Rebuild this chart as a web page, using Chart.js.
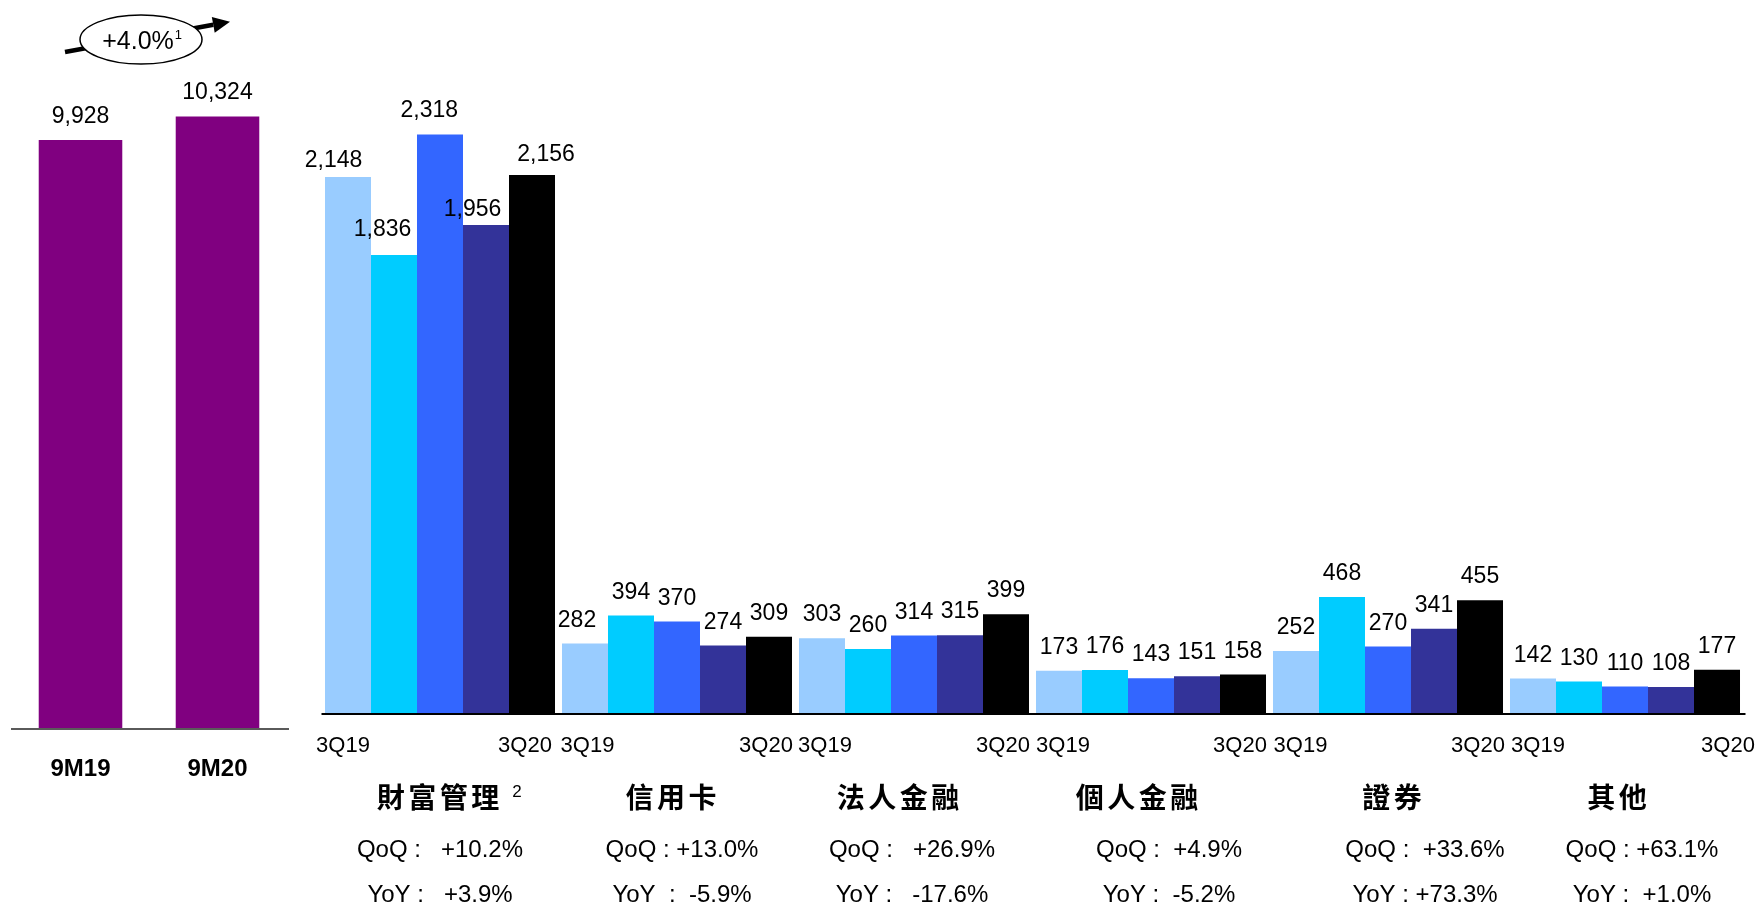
<!DOCTYPE html>
<html>
<head>
<meta charset="utf-8">
<script src="https://cdn.jsdelivr.net/npm/chart.js@4/dist/chart.umd.min.js"></script>
<style>
  html, body { margin: 0; padding: 0; background: #ffffff; }
  #wrap { position: relative; width: 1758px; height: 909px; overflow: hidden; }
  #wrap canvas { position: absolute; left: 0; top: 0; }
</style>
</head>
<body>
<div id="wrap">
  <canvas id="totalChart" width="1758" height="909"></canvas>
  <canvas id="segmentChart" width="1758" height="909"></canvas>
</div>
<script>
// ---- Nine-month totals ----
const periods = ['9M19', '9M20'];
const periodTotals = [9928, 10324];
const totalGrowth = '+4.0%';
const totalGrowthNote = '1';

// ---- Quarterly revenue by business line ----
const segments = ['財富管理', '信用卡', '法人金融', '個人金融', '證券', '其他'];
const segmentNotes = ['2', '', '', '', '', ''];
const quarters = ['3Q19', '4Q19', '1Q20', '2Q20', '3Q20'];
const rev3Q19 = [2148, 282, 303, 173, 252, 142];
const rev4Q19 = [1836, 394, 260, 176, 468, 130];
const rev1Q20 = [2318, 370, 314, 143, 270, 110];
const rev2Q20 = [1956, 274, 315, 151, 341, 108];
const rev3Q20 = [2156, 309, 399, 158, 455, 177];
const qoqText = ['QoQ :   +10.2%', 'QoQ : +13.0%', 'QoQ :   +26.9%', 'QoQ :  +4.9%', 'QoQ :  +33.6%', 'QoQ : +63.1%'];
const yoyText = ['YoY :   +3.9%', 'YoY  :  -5.9%', 'YoY :   -17.6%', 'YoY :  -5.2%', 'YoY : +73.3%', 'YoY :  +1.0%'];

const quarterColors = ['#99CCFF', '#00CCFF', '#3366FF', '#333399', '#000000'];
const SANS = '"Liberation Sans", Arial, Helvetica, sans-serif';
const CJK = '"Noto Sans CJK TC", "Noto Sans CJK SC", sans-serif';
const fmt = v => v.toLocaleString('en-US');

// Horizontal nudges for the text block under each business line
const nameShift = [-2, -6, -16, -14, 4, -8];
const rateShift = [0, 5, -2, 18, 37, 17];
// Nudges for the first / last quarter captions of each group
const firstTickShift = [-5, 2.5, 3, 4, 4.5, 5];
const lastTickShift = [-7, -3, -3, -3, -2, 11];
// Label nudges [dx, dy] keyed by "dataset:index" where labels sit off-centre
const labelNudge = {
  '0:0': [-14.5, 6.7], '1:0': [-11.5, -1.7], '2:0': [-10.7, -1],
  '3:0': [-13.5, 7.7], '4:0': [14, 2.7], '0:1': [-8, 0]
};

function drawSpaced(ctx, text, cx, cy, gap) {
  const chars = Array.from(text);
  const widths = chars.map(c => ctx.measureText(c).width);
  const total = widths.reduce((a, b) => a + b, 0) + gap * (chars.length - 1);
  let x = cx - total / 2;
  ctx.textAlign = 'left';
  chars.forEach((c, i) => { ctx.fillText(c, x, cy); x += widths[i] + gap; });
  ctx.textAlign = 'center';
  return x - gap; // right edge
}

const commonOptions = {
  responsive: false,
  animation: false,
  devicePixelRatio: 1,
  events: [],
  plugins: { legend: { display: false }, tooltip: { enabled: false } }
};

// ---- Left: nine-month totals ----
const totalDecor = {
  id: 'totalDecor',
  afterDatasetsDraw(chart) {
    const ctx = chart.ctx;
    const area = chart.chartArea;
    const y0 = chart.scales.y.getPixelForValue(0);
    const bars = chart.getDatasetMeta(0).data;
    ctx.save();
    // axis line
    ctx.strokeStyle = '#5a5a5a';
    ctx.lineWidth = 2;
    ctx.beginPath();
    ctx.moveTo(area.left - 1, y0);
    ctx.lineTo(area.right + 3, y0);
    ctx.stroke();

    ctx.fillStyle = '#000';
    ctx.textAlign = 'center';
    ctx.textBaseline = 'alphabetic';
    ctx.font = '23px ' + SANS;
    bars.forEach((b, i) => ctx.fillText(fmt(periodTotals[i]), b.x, b.y - 17));

    ctx.font = 'bold 24px ' + SANS;
    bars.forEach((b, i) => ctx.fillText(periods[i], b.x, y0 + 47));

    // growth arrow with the ellipse badge
    const sx = 65, sy = 52, tx = 230, ty = 21.7;
    const dx = tx - sx, dy = ty - sy, len = Math.hypot(dx, dy);
    const ux = dx / len, uy = dy / len;
    const headLen = 17, headHalf = 8;
    ctx.strokeStyle = '#000';
    ctx.lineWidth = 4.5;
    ctx.beginPath();
    ctx.moveTo(sx, sy);
    ctx.lineTo(tx - ux * headLen, ty - uy * headLen);
    ctx.stroke();
    ctx.fillStyle = '#000';
    ctx.beginPath();
    ctx.moveTo(tx, ty);
    ctx.lineTo(tx - ux * headLen - uy * headHalf, ty - uy * headLen + ux * headHalf);
    ctx.lineTo(tx - ux * headLen + uy * headHalf, ty - uy * headLen - ux * headHalf);
    ctx.closePath();
    ctx.fill();

    const ex = (bars[0].x + bars[1].x) / 2 - 8, ey = 39.5;
    ctx.beginPath();
    ctx.ellipse(ex, ey, 61, 24.5, 0, 0, Math.PI * 2);
    ctx.fillStyle = '#fff';
    ctx.fill();
    ctx.lineWidth = 1.5;
    ctx.strokeStyle = '#000';
    ctx.stroke();

    ctx.fillStyle = '#000';
    ctx.font = '25px ' + SANS;
    ctx.textAlign = 'center';
    const w = ctx.measureText(totalGrowth).width;
    ctx.fillText(totalGrowth, ex - 3, ey + 9);
    ctx.font = '13px ' + SANS;
    ctx.textAlign = 'left';
    ctx.fillText(totalGrowthNote, ex - 3 + w / 2 + 1, ey - 1);
    ctx.restore();
  }
};

new Chart(document.getElementById('totalChart'), {
  type: 'bar',
  data: {
    labels: periods,
    datasets: [{ data: periodTotals, backgroundColor: '#800080', borderWidth: 0,
                 barPercentage: 0.61, categoryPercentage: 1 }]
  },
  options: Object.assign({}, commonOptions, {
    layout: { padding: { left: 12, right: 1472, top: 17, bottom: 180 } },
    scales: {
      x: { display: false },
      y: { display: false, min: 0, max: 12000 }
    }
  }),
  plugins: [totalDecor]
});

// ---- Right: quarterly revenue by business line ----
const quarterSeries = [rev3Q19, rev4Q19, rev1Q20, rev2Q20, rev3Q20];

const segmentDecor = {
  id: 'segmentDecor',
  afterDatasetsDraw(chart) {
    const ctx = chart.ctx;
    const area = chart.chartArea;
    const xs = chart.scales.x;
    const y0 = chart.scales.y.getPixelForValue(0);
    ctx.save();
    ctx.strokeStyle = '#000';
    ctx.lineWidth = 2;
    ctx.beginPath();
    ctx.moveTo(area.left, y0);
    ctx.lineTo(area.right + 2, y0);
    ctx.stroke();

    ctx.fillStyle = '#000';
    ctx.textAlign = 'center';
    ctx.textBaseline = 'alphabetic';
    ctx.font = '23px ' + SANS;
    chart.data.datasets.forEach((ds, di) => {
      chart.getDatasetMeta(di).data.forEach((b, i) => {
        const n = labelNudge[di + ':' + i] || [0, 0];
        ctx.fillText(fmt(ds.data[i]), b.x + n[0], b.y - 17 + n[1]);
      });
    });

    // first and last quarter under each group
    ctx.font = '22px ' + SANS;
    const firstBars = chart.getDatasetMeta(0).data;
    const lastBars = chart.getDatasetMeta(quarters.length - 1).data;
    firstBars.forEach((b, i) => ctx.fillText(quarters[0], b.x + firstTickShift[i], y0 + 38));
    lastBars.forEach((b, i) => ctx.fillText(quarters[quarters.length - 1], b.x + lastTickShift[i], y0 + 38));

    segments.forEach((name, i) => {
      const cx = xs.getPixelForValue(i);
      ctx.font = 'bold 28px ' + CJK;
      ctx.textBaseline = 'middle';
      const right = drawSpaced(ctx, name, cx + nameShift[i], y0 + 83.5, 3.5);
      if (segmentNotes[i]) {
        ctx.font = '17px ' + SANS;
        ctx.textAlign = 'left';
        ctx.textBaseline = 'alphabetic';
        ctx.fillText(segmentNotes[i], right + 13, y0 + 83);
        ctx.textAlign = 'center';
      }
      ctx.textBaseline = 'alphabetic';
      ctx.font = '24px ' + SANS;
      ctx.fillText(qoqText[i], cx + rateShift[i], y0 + 143);
      ctx.fillText(yoyText[i], cx + rateShift[i], y0 + 188);
    });
    ctx.restore();
  }
};

new Chart(document.getElementById('segmentChart'), {
  type: 'bar',
  data: {
    labels: segments,
    datasets: quarters.map((q, i) => ({
      label: q,
      data: quarterSeries[i],
      backgroundColor: quarterColors[i],
      borderWidth: 0,
      barPercentage: 1,
      categoryPercentage: 0.9705
    }))
  },
  options: Object.assign({}, commonOptions, {
    layout: { padding: { left: 321.5, right: 14.5, top: 14, bottom: 195 } },
    scales: {
      x: { display: false },
      y: { display: false, min: 0, max: 2800 }
    }
  }),
  plugins: [segmentDecor]
});
</script>
</body>
</html>
